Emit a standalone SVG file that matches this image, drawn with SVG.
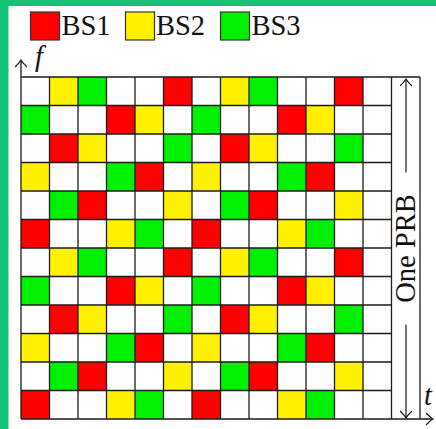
<svg xmlns="http://www.w3.org/2000/svg" width="436" height="429" viewBox="0 0 436 429">
<style>
.r{fill:#ff0000}.y{fill:#fff100}.g{fill:#00f000}
.ln{stroke:#1c1c1c;stroke-width:1.3;fill:none}
.ah{stroke:#1c1c1c;stroke-width:1.2;fill:none;stroke-linecap:round}
.lg{stroke:#333;stroke-width:1.2}
.tx{font-family:"Liberation Serif","Times New Roman",serif;font-size:28.5px;fill:#111}
.it{font-style:italic}
</style>
<defs>
<g id="block">
<rect class="r" x="142.5" y="0" width="28.5" height="28.5"/>
<rect class="r" x="85.5" y="28.5" width="28.5" height="28.5"/>
<rect class="r" x="28.5" y="57" width="28.5" height="28.5"/>
<rect class="r" x="114" y="85.5" width="28.5" height="28.5"/>
<rect class="r" x="57" y="114" width="28.5" height="28.5"/>
<rect class="r" x="0" y="142.5" width="28.5" height="28.5"/>
<rect class="y" x="28.5" y="0" width="28.5" height="28.5"/>
<rect class="y" x="114" y="28.5" width="28.5" height="28.5"/>
<rect class="y" x="57" y="57" width="28.5" height="28.5"/>
<rect class="y" x="0" y="85.5" width="28.5" height="28.5"/>
<rect class="y" x="142.5" y="114" width="28.5" height="28.5"/>
<rect class="y" x="85.5" y="142.5" width="28.5" height="28.5"/>
<rect class="g" x="57" y="0" width="28.5" height="28.5"/>
<rect class="g" x="0" y="28.5" width="28.5" height="28.5"/>
<rect class="g" x="142.5" y="57" width="28.5" height="28.5"/>
<rect class="g" x="85.5" y="85.5" width="28.5" height="28.5"/>
<rect class="g" x="28.5" y="114" width="28.5" height="28.5"/>
<rect class="g" x="114" y="142.5" width="28.5" height="28.5"/>
</g>
<path id="ahead" d="M-5.5,6.5 C-3,4 -1,2 0,0 C1,2 3,4 5.5,6.5"/>
</defs>
<rect x="0" y="0" width="436" height="429" fill="#ffffff"/>
<rect x="0" y="0" width="436" height="6" fill="#14c377"/>
<rect x="0" y="0" width="8.5" height="429" fill="#14c377"/>

<g id="legend">
<rect class="r lg" x="30.5" y="12" width="29" height="28"/>
<text class="tx" x="61.5" y="35">BS1</text>
<rect class="y lg" x="125.5" y="12" width="29" height="28"/>
<text class="tx" x="156" y="35">BS2</text>
<rect class="g lg" x="220.5" y="12" width="29" height="28"/>
<text class="tx" x="251.5" y="35">BS3</text>
</g>

<g id="cells">
<use href="#block" transform="translate(21,77)"/>
<use href="#block" transform="translate(192,77)"/>
<use href="#block" transform="translate(21,248)"/>
<use href="#block" transform="translate(192,248)"/>
</g>

<g id="gridlines">
<path class="ln" d="M49.5,77V419M78,77V419M106.5,77V419M135,77V419M163.5,77V419M192,77V419M220.5,77V419M249,77V419M277.5,77V419M306,77V419M334.5,77V419M363,77V419M391.5,77V419M420,77V419"/>
<path class="ln" d="M21,105.5H391.5M21,134H391.5M21,162.5H391.5M21,191H391.5M21,219.5H391.5M21,248H391.5M21,276.5H391.5M21,305H391.5M21,333.5H391.5M21,362H391.5M21,390.5H391.5M21,77H420"/>
</g>

<g id="axes">
<path class="ln" d="M21,419V61M21,419H432"/>
<use href="#ahead" class="ah" transform="translate(21,60)"/>
<use href="#ahead" class="ah" transform="translate(433,419) rotate(90)"/>
<text class="tx it" x="35" y="66">f</text>
<text class="tx it" x="424" y="405">t</text>
</g>

<g id="prb">
<path class="ah" d="M406,172V80M406,325V418"/>
<use href="#ahead" class="ah" transform="translate(406,79)"/>
<use href="#ahead" class="ah" transform="translate(406,418) rotate(180)"/>
<text class="tx" text-anchor="middle" transform="translate(415,248.5) rotate(-90)">One PRB</text>
</g>
</svg>
